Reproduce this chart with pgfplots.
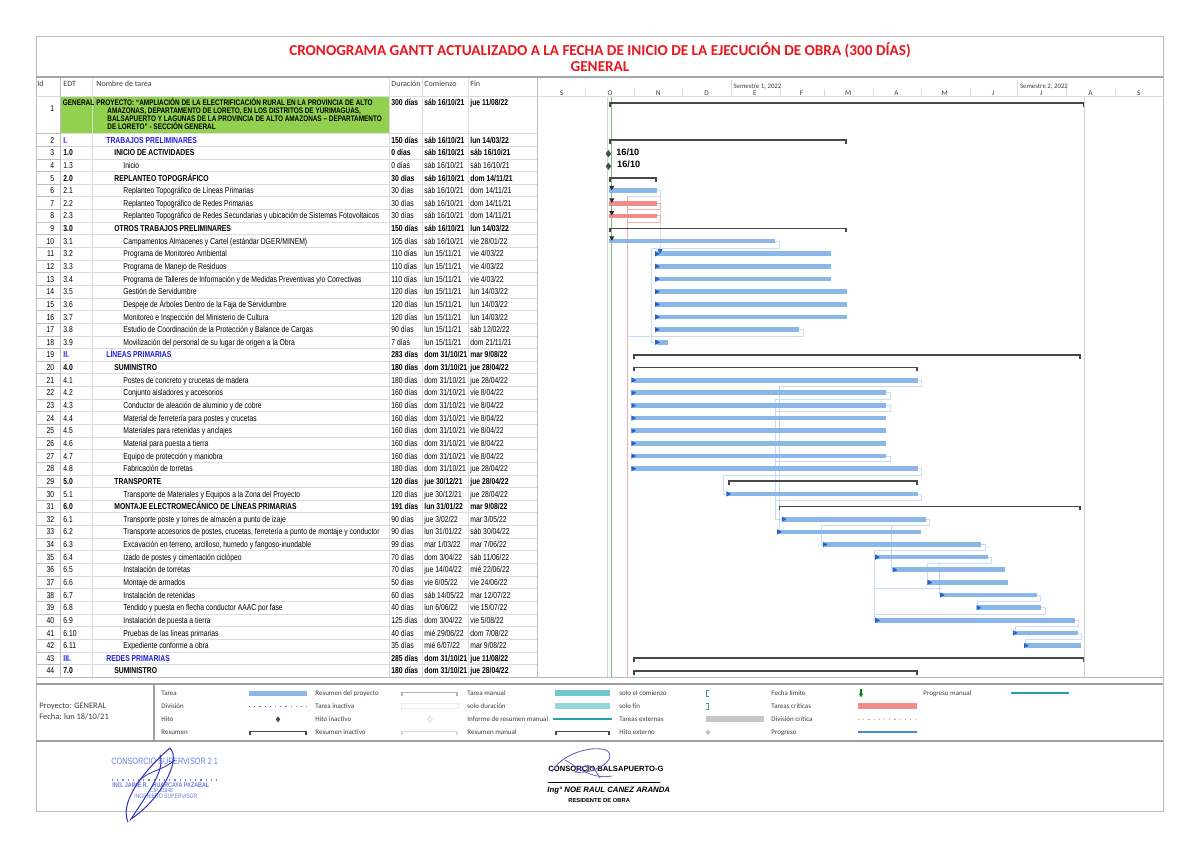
\documentclass[border=0pt]{standalone}
\usepackage{fontspec}
\setmainfont{Liberation Sans}
\newfontfamily\tbf[FakeStretch=0.79]{Liberation Sans}
\newfontfamily\clf{Carlito}
\usepackage{pgfplots}
\pgfplotsset{compat=1.18}
\usepackage{pgfplotstable}
\definecolor{barblue}{RGB}{138,182,232}
\definecolor{crit}{RGB}{243,139,139}
\definecolor{sumgray}{RGB}{72,72,72}
\definecolor{ttlred}{RGB}{235,22,30}
\definecolor{blu}{RGB}{30,30,225}
\definecolor{grn}{RGB}{146,208,80}
\definecolor{lnk}{RGB}{200,221,245}
\definecolor{lnkred}{RGB}{246,170,170}
\definecolor{arrb}{RGB}{35,100,205}
\definecolor{gridc}{RGB}{220,220,220}
\definecolor{framec}{RGB}{190,190,190}
\definecolor{hdr}{RGB}{60,60,60}
\definecolor{teal1}{RGB}{112,200,206}
\definecolor{teal2}{RGB}{40,160,170}
\definecolor{progb}{RGB}{70,135,215}
\definecolor{stampb}{RGB}{110,125,220}
\definecolor{sigb}{RGB}{45,50,190}
\definecolor{sigp}{RGB}{120,95,200}
\definecolor{statg}{RGB}{110,195,110}
\pgfdeclareplotmark{stL}{\pgfpathrectangle{\pgfpoint{0pt}{-1.9pt}}{\pgfpoint{0.8pt}{2.35pt}}\pgfusepathqfill}
\pgfdeclareplotmark{stR}{\pgfpathrectangle{\pgfpoint{-0.8pt}{-1.9pt}}{\pgfpoint{0.8pt}{2.35pt}}\pgfusepathqfill}
\pgfplotsset{lk/.style={lnk, line width=0.4pt}, lkr/.style={lnkred, line width=0.4pt}}

% row  start(day from 16/10/21)  duration(days)
\pgfplotstableread{
r s d
6 0 30
10 0 105
11 30 110
12 30 110
13 30 110
14 30 120
15 30 120
16 30 120
17 30 90
18 30 7
21 15 180
22 15 160
23 15 160
24 15 160
25 15 160
26 15 160
27 15 160
28 15 180
30 75 120
32 110 90
33 107 90
34 136 99
35 169 70
36 180 70
37 202 50
38 210 60
39 233 40
40 169 125
41 256 40
42 263 35
}\blueTasks
\pgfplotstableread{
r s d
7 0 30
8 0 30
}\critTasks
\pgfplotstableread{
r s d
-0.9 0 300
2 0 150
5 0 30
9 0 150
19 15 283
20 15 180
29 75 120
31 107 191
43 15 285
44 15 180
}\sumTasks
\pgfplotstableread{
r s
11 30
12 30
13 30
14 30
15 30
16 30
17 30
18 30
21 15
22 15
23 15
24 15
25 15
26 15
27 15
28 15
30 75
32 110
33 107
34 136
35 169
36 180
37 202
38 210
39 233
40 169
41 256
42 263
}\linkArr

\newcommand\fs{\fontsize{4.3pt}{5pt}\selectfont}
\newcommand\fsa{\fontsize{4.05pt}{5pt}\selectfont}
\newcommand\Bf{\bfseries}
\newcommand\R[9]{%
 \node[anchor=base east,inner sep=0] at (54.5,{140+(#1-2)*12.64+3.1}) {\tbf\fs #1};
 \node[anchor=base west,inner sep=0] at (63,{140+(#1-2)*12.64+3.1}) {\tbf\fs #4#2};
 \node[anchor=base west,inner sep=0] at (#3,{140+(#1-2)*12.64+3.1}) {\tbf\fs #4#5};
 \node[anchor=base west,inner sep=0] at (391,{140+(#1-2)*12.64+3.1}) {\tbf\fs #9#6};
 \node[anchor=base west,inner sep=0] at (424,{140+(#1-2)*12.64+3.1}) {\tbf\fs #9#7};
 \node[anchor=base west,inner sep=0] at (470,{140+(#1-2)*12.64+3.1}) {\tbf\fs #9#8};
}
\newcommand\brk[4]{%
 \fill[#4] (#1,{#3-0.9}) rectangle (#2,{#3+0.9});
 \fill[#4] (#1,{#3-0.9}) rectangle ({#1+1.6},{#3+3.8});
 \fill[#4] ({#2-1.6},{#3-0.9}) rectangle (#2,{#3+3.8});
}
\newcommand\lgd[3]{\node[anchor=base west,inner sep=0,text=hdr] at (#1,{#2+2.3}) {\clf\fontsize{3.5pt}{4pt}\selectfont #3};}

\begin{document}
\begin{tikzpicture}[x=0.5pt,y=-0.5pt]
\useasboundingbox (0,0) rectangle (1200,848);
\fill[white] (0,0) rectangle (1200,848);

% ---------- title ----------
\node[anchor=base,inner sep=0,text=ttlred] at (600,55.2) {\clf\bfseries\fontsize{7.6pt}{8pt}\selectfont CRONOGRAMA GANTT ACTUALIZADO A LA FECHA DE INICIO DE LA EJECUCIÓN DE OBRA (300 DÍAS)};
\node[anchor=base,inner sep=0,text=ttlred] at (600,71.2) {\clf\bfseries\fontsize{7.6pt}{8pt}\selectfont GENERAL};

% ---------- table grid ----------
\fill[grn] (60,96.5) rectangle (389,133.68);
\foreach \k in {2,...,44} \draw[gridc, line width=0.4pt] (60,{133.68+(\k-2)*12.64}) -- (537.5,{133.68+(\k-2)*12.64});
\foreach \k in {2,...,44} \draw[framec, line width=0.4pt] (36,{133.68+(\k-2)*12.64}) -- (60,{133.68+(\k-2)*12.64});
\draw[gridc, line width=0.4pt] (36,96.5) -- (1163.3,96.5);
\foreach \x in {92,389,422,468} \draw[gridc, line width=0.4pt] (\x,77) -- (\x,677.3);
\draw[framec, line width=0.4pt] (60,77) -- (60,677.3);
\draw[framec, line width=0.5pt] (537.5,77) -- (537.5,677.3);

% header
\foreach \x/\t in {37/Id, 63/EDT, 96/Nombre de tarea, 391/Duración, 424/Comienzo, 470/Fin}
  \node[anchor=base west,inner sep=0,text=hdr] at (\x,86.8) {\clf\fontsize{4pt}{5pt}\selectfont \t};
% timeline header
\foreach \d in {-15,16,46,108,136,167,197,228,289,320} \draw[gridc, line width=0.4pt] ({609.2+1.5831*\d},89) -- ({609.2+1.5831*\d},96.5);
\foreach \d in {77,258} \draw[gridc, line width=0.4pt] ({609.2+1.5831*\d},80) -- ({609.2+1.5831*\d},96.5);
\node[anchor=base west,inner sep=0,text=hdr] at ({609.2+1.5831*77+2},88.2) {\clf\fontsize{3.4pt}{4pt}\selectfont Semestre 1, 2022};
\node[anchor=base west,inner sep=0,text=hdr] at ({609.2+1.5831*258+2},88.2) {\clf\fontsize{3.4pt}{4pt}\selectfont Semestre 2, 2022};
\foreach \d/\m in {-30/S, 0.5/O, 31/N, 61.5/D, 92/E, 121.5/F, 151/M, 181.5/A, 212/M, 242.5/J, 273/J, 304/A, 334.5/S}
  \node[anchor=base,inner sep=0,text=hdr] at ({609.2+1.5831*\d},95.8) {\clf\fontsize{3.6pt}{4pt}\selectfont \m};

% ---------- row 1 ----------
\node[anchor=base east,inner sep=0] at (54.5,111.5) {\tbf\fs 1};
\node[anchor=base west,inner sep=0] at (62.5,105.1) {\tbf\fsa\Bf GENERAL};
\node[anchor=base west,inner sep=0] at (96,105.1) {\tbf\fsa\Bf PROYECTO: “AMPLIACIÓN DE LA ELECTRIFICACIÓN RURAL EN LA PROVINCIA DE ALTO};
\node[anchor=base west,inner sep=0] at (107,113.3) {\tbf\fsa\Bf AMAZONAS, DEPARTAMENTO DE LORETO, EN LOS DISTRITOS DE YURIMAGUAS,};
\node[anchor=base west,inner sep=0] at (107,121.5) {\tbf\fsa\Bf BALSAPUERTO Y LAGUNAS DE LA PROVINCIA DE ALTO AMAZONAS – DEPARTAMENTO};
\node[anchor=base west,inner sep=0] at (107,129.7) {\tbf\fsa\Bf DE LORETO” - SECCIÓN GENERAL};
\node[anchor=base west,inner sep=0] at (391,105.1) {\tbf\fs\Bf 300 días};
\node[anchor=base west,inner sep=0] at (424,105.1) {\tbf\fs\Bf sáb 16/10/21};
\node[anchor=base west,inner sep=0] at (470,105.1) {\tbf\fs\Bf jue 11/08/22};

% ---------- rows ----------
\R{2}{I.}{106}{\Bf\color{blu}}{TRABAJOS PRELIMINARES}{150 días}{sáb 16/10/21}{lun 14/03/22}{\Bf}
\R{3}{1.0}{114}{\Bf}{INICIO DE ACTIVIDADES}{0 días}{sáb 16/10/21}{sáb 16/10/21}{\Bf}
\R{4}{1.3}{123}{}{Inicio}{0 días}{sáb 16/10/21}{sáb 16/10/21}{}
\R{5}{2.0}{114}{\Bf}{REPLANTEO TOPOGRÁFICO}{30 días}{sáb 16/10/21}{dom 14/11/21}{\Bf}
\R{6}{2.1}{123}{}{Replanteo Topográfico de Líneas Primarias}{30 días}{sáb 16/10/21}{dom 14/11/21}{}
\R{7}{2.2}{123}{}{Replanteo Topográfico de Redes Primarias}{30 días}{sáb 16/10/21}{dom 14/11/21}{}
\R{8}{2.3}{123}{}{Replanteo Topográfico de Redes Secundarias y ubicación de Sistemas Fotovoltaicos}{30 días}{sáb 16/10/21}{dom 14/11/21}{}
\R{9}{3.0}{114}{\Bf}{OTROS TRABAJOS PRELIMINARES}{150 días}{sáb 16/10/21}{lun 14/03/22}{\Bf}
\R{10}{3.1}{123}{}{Campamentos Almacenes y Cartel (estándar DGER/MINEM)}{105 días}{sáb 16/10/21}{vie 28/01/22}{}
\R{11}{3.2}{123}{}{Programa de Monitoreo Ambiental}{110 días}{lun 15/11/21}{vie 4/03/22}{}
\R{12}{3.3}{123}{}{Programa de Manejo de Residuos}{110 días}{lun 15/11/21}{vie 4/03/22}{}
\R{13}{3.4}{123}{}{Programa de Talleres de Información y de Medidas Preventivas y/o Correctivas}{110 días}{lun 15/11/21}{vie 4/03/22}{}
\R{14}{3.5}{123}{}{Gestión de Servidumbre}{120 días}{lun 15/11/21}{lun 14/03/22}{}
\R{15}{3.6}{123}{}{Despeje de Árboles Dentro de la Faja de Servidumbre}{120 días}{lun 15/11/21}{lun 14/03/22}{}
\R{16}{3.7}{123}{}{Monitoreo e Inspección del Ministerio de Cultura}{120 días}{lun 15/11/21}{lun 14/03/22}{}
\R{17}{3.8}{123}{}{Estudio de Coordinación de la Protección y Balance de Cargas}{90 días}{lun 15/11/21}{sáb 12/02/22}{}
\R{18}{3.9}{123}{}{Movilización del personal de su lugar de origen a la Obra}{7 días}{lun 15/11/21}{dom 21/11/21}{}
\R{19}{II.}{106}{\Bf\color{blu}}{LÍNEAS PRIMARIAS}{283 días}{dom 31/10/21}{mar 9/08/22}{\Bf}
\R{20}{4.0}{114}{\Bf}{SUMINISTRO}{180 días}{dom 31/10/21}{jue 28/04/22}{\Bf}
\R{21}{4.1}{123}{}{Postes de concreto y crucetas de madera}{180 días}{dom 31/10/21}{jue 28/04/22}{}
\R{22}{4.2}{123}{}{Conjunto aisladores y accesorios}{160 días}{dom 31/10/21}{vie 8/04/22}{}
\R{23}{4.3}{123}{}{Conductor de aleación de aluminio y de cobre}{160 días}{dom 31/10/21}{vie 8/04/22}{}
\R{24}{4.4}{123}{}{Material de ferretería para postes y crucetas}{160 días}{dom 31/10/21}{vie 8/04/22}{}
\R{25}{4.5}{123}{}{Materiales para retenidas y anclajes}{160 días}{dom 31/10/21}{vie 8/04/22}{}
\R{26}{4.6}{123}{}{Material para puesta a tierra}{160 días}{dom 31/10/21}{vie 8/04/22}{}
\R{27}{4.7}{123}{}{Equipo de protección y maniobra}{160 días}{dom 31/10/21}{vie 8/04/22}{}
\R{28}{4.8}{123}{}{Fabricación de torretas}{180 días}{dom 31/10/21}{jue 28/04/22}{}
\R{29}{5.0}{114}{\Bf}{TRANSPORTE}{120 días}{jue 30/12/21}{jue 28/04/22}{\Bf}
\R{30}{5.1}{123}{}{Transporte de Materiales y Equipos a la Zona del Proyecto}{120 días}{jue 30/12/21}{jue 28/04/22}{}
\R{31}{6.0}{114}{\Bf}{MONTAJE ELECTROMECÁNICO DE LÍNEAS PRIMARIAS}{191 días}{lun 31/01/22}{mar 9/08/22}{\Bf}
\R{32}{6.1}{123}{}{Transporte poste y torres de almacén a punto de izaje}{90 días}{jue 3/02/22}{mar 3/05/22}{}
\R{33}{6.2}{123}{}{Transporte accesorios de postes, crucetas, ferretería a punto de montaje y conductor}{90 días}{lun 31/01/22}{sáb 30/04/22}{}
\R{34}{6.3}{123}{}{Excavación en terreno, arcilloso, humedo y fangoso-inundable}{99 días}{mar 1/03/22}{mar 7/06/22}{}
\R{35}{6.4}{123}{}{Izado de postes y cimentación ciclópeo}{70 días}{dom 3/04/22}{sáb 11/06/22}{}
\R{36}{6.5}{123}{}{Instalación de torretas}{70 días}{jue 14/04/22}{mié 22/06/22}{}
\R{37}{6.6}{123}{}{Montaje de armados}{50 días}{vie 6/05/22}{vie 24/06/22}{}
\R{38}{6.7}{123}{}{Instalación de retenidas}{60 días}{sáb 14/05/22}{mar 12/07/22}{}
\R{39}{6.8}{123}{}{Tendido y puesta en flecha conductor AAAC por fase}{40 días}{lun 6/06/22}{vie 15/07/22}{}
\R{40}{6.9}{123}{}{Instalación de puesta a tierra}{125 días}{dom 3/04/22}{vie 5/08/22}{}
\R{41}{6.10}{123}{}{Pruebas de las líneas primarias}{40 días}{mié 29/06/22}{dom 7/08/22}{}
\R{42}{6.11}{123}{}{Expediente conforme a obra}{35 días}{mié 6/07/22}{mar 9/08/22}{}
\R{43}{III.}{106}{\Bf\color{blu}}{REDES PRIMARIAS}{285 días}{dom 31/10/21}{jue 11/08/22}{\Bf}
\R{44}{7.0}{114}{\Bf}{SUMINISTRO}{180 días}{dom 31/10/21}{jue 28/04/22}{\Bf}

% ---------- gantt ----------
\begin{axis}[at={(268.75pt,-338.65pt)}, anchor=south west, width=312.9pt, height=290.4pt,
  scale only axis, xmin=-45.3, xmax=350, ymin=-1.441, ymax=44.508, y dir=reverse,
  hide axis, clip=false]
\addplot[gray!35, line width=0.4pt] coordinates {(-1,-1.441) (-1,44.508)};
\addplot[gray!35, line width=0.4pt] coordinates {(300,-1.441) (300,44.508)};
\addplot[statg, line width=0.45pt] coordinates {(1.6,-1.441) (1.6,44.508)};
% links
\addplot[lkr] coordinates {(11.4,6.5) (11.4,44.508)};
\addplot[lk] coordinates {(30,6) (32.2,6) (32.2,10.6)};
\addplot[lk] coordinates {(32.2,6.5) (11.4,6.5)};
\addplot[lkr] coordinates {(30,7) (32.2,7) (32.2,7.5) (11.4,7.5)};
\addplot[lkr] coordinates {(30,8) (32.2,8) (32.2,8.5) (11.4,8.5)};
\addplot[lk] coordinates {(105,10) (107.5,10) (107.5,10.57) (26.5,10.57) (26.5,18) (29,18)};
\addplot[lk] coordinates {(120,17) (122.5,17) (122.5,17.56) (11.4,17.56)};
\addplot[lk] coordinates {(195,21) (197.5,21) (197.5,21.5) (107.8,21.5) (107.8,33) (107,33)};
\addplot[lk] coordinates {(175,22) (177.5,22) (177.5,22.5) (104.7,22.5) (104.7,32) (109,32)};
\addplot[lk] coordinates {(175,23) (177.5,23) (177.5,23.5) (104.7,23.5)};
\addplot[lk] coordinates {(175,27) (177.5,27) (177.5,27.45) (104.7,27.45)};
\addplot[lk] coordinates {(195,28) (197.5,28) (197.5,28.5) (72.4,28.5) (72.4,30) (74,30)};
\addplot[lk] coordinates {(195,30) (197.5,30) (197.5,30.5) (104.7,30.5)};
\addplot[lk] coordinates {(200,32) (202.5,32) (202.5,32.5) (133.8,32.5) (133.8,34) (135,34)};
\addplot[lk] coordinates {(178.5,32.5) (178.5,36) (179,36)};
\addplot[lk] coordinates {(235,34) (237.5,34) (237.5,34.5) (167.7,34.5) (167.7,40) (168,40)};
\addplot[lk] coordinates {(167.7,35) (168.5,35)};
\addplot[lk] coordinates {(167.7,37.5) (210,37.5)};
\addplot[lk] coordinates {(273,39) (275.5,39) (275.5,39.5) (167.7,39.5)};
\addplot[lk] coordinates {(239,35) (241.5,35) (241.5,35.5) (201,35.5) (201,37) (202,37)};
\addplot[lk] coordinates {(208.6,35.5) (208.6,38) (209.5,38)};
\addplot[lk] coordinates {(270,38) (272.5,38) (272.5,38.5) (232.8,38.5) (232.8,39) (233,39)};
\addplot[lk] coordinates {(294,40) (296.5,40) (296.5,40.5) (256.3,40.5) (256.3,41) (256,41)};
\addplot[lk] coordinates {(296,41) (298.5,41) (298.5,41.5) (263,41.5) (263,42)};
% bars
\addplot[barblue, line width=2.35pt, quiver={u=\thisrow{d}, v=0}] table[x=s,y=r]{\blueTasks};
\addplot[crit, line width=2.35pt, quiver={u=\thisrow{d}, v=0}] table[x=s,y=r]{\critTasks};
\addplot[sumgray, line width=0.9pt, quiver={u=\thisrow{d}, v=0}] table[x=s,y=r]{\sumTasks};
\addplot[only marks, mark=stL, color=sumgray] table[x=s,y=r]{\sumTasks};
\addplot[only marks, mark=stR, color=sumgray] table[x expr=\thisrow{s}+\thisrow{d},y=r]{\sumTasks};
% link arrows
\addplot[only marks, mark=triangle*, mark size=1.15pt, color=arrb, mark options={rotate=-90}] table[x=s,y=r]{\linkArr};
\addplot[only marks, mark=triangle*, mark size=1.05pt, color=black!85, mark options={rotate=180}] coordinates {(1.6,5.74) (1.6,6.74) (1.6,7.74) (1.6,9.74)};
\addplot[only marks, mark=triangle*, mark size=1.05pt, color=arrb, mark options={rotate=180}] coordinates {(32.2,10.74)};
% milestones
\addplot[only marks, mark=diamond*, mark size=1.5pt, color=black!70] coordinates {(-0.5,3.08) (-0.5,4.08)};
\node[anchor=west,inner sep=0] at (axis cs:4.2,2.95) {\fontsize{4.6pt}{5pt}\selectfont\bfseries 16/10};
\node[anchor=west,inner sep=0] at (axis cs:4.8,3.95) {\fontsize{4.6pt}{5pt}\selectfont\bfseries 16/10};
\end{axis}

% ---------- frames ----------
\draw[framec, line width=0.5pt] (36,36) rectangle (1163.3,811.7);
\draw[gray!70, line width=0.8pt] (36,77) -- (1163.3,77);
\draw[gray!55, line width=0.5pt] (36,677.3) -- (1163.3,677.3);
\draw[gray!75, line width=1pt] (36,684) -- (1163.3,684);
\draw[gray!75, line width=1pt] (36,740.5) -- (1163.3,740.5);
\draw[gray!75, line width=0.6pt] (154,684) -- (154,740.5);

% ---------- legend ----------
\node[anchor=base west,inner sep=0,text=hdr] at (39,708.7) {\clf\fontsize{4.2pt}{5pt}\selectfont Proyecto: GENERAL};
\node[anchor=base west,inner sep=0,text=hdr] at (39,719.4) {\clf\fontsize{4.2pt}{5pt}\selectfont Fecha: lun 18/10/21};
\lgd{161}{693.3}{Tarea}\lgd{161}{706.3}{División}\lgd{161}{719.3}{Hito}\lgd{161}{732.3}{Resumen}
\lgd{315}{693.3}{Resumen del proyecto}\lgd{315}{706.3}{Tarea inactiva}\lgd{315}{719.3}{Hito inactivo}\lgd{315}{732.3}{Resumen inactivo}
\lgd{467}{693.3}{Tarea manual}\lgd{467}{706.3}{solo duración}\lgd{467}{719.3}{Informe de resumen manual}\lgd{467}{732.3}{Resumen manual}
\lgd{619}{693.3}{solo el comienzo}\lgd{619}{706.3}{solo fin}\lgd{619}{719.3}{Tareas externas}\lgd{619}{732.3}{Hito externo}
\lgd{771}{693.3}{Fecha límite}\lgd{771}{706.3}{Tareas críticas}\lgd{771}{719.3}{División crítica}\lgd{771}{732.3}{Progreso}
\lgd{923}{693.3}{Progreso manual}
% col 1
\fill[barblue] (249,690.5) rectangle (307,696);
\draw[progb, dotted, line width=0.6pt] (249,706.3) -- (307,706.3);
\fill[black!70] (278,716.3) -- (280.2,719.3) -- (278,722.3) -- (275.8,719.3) -- cycle;
\brk{249}{307}{731.5}{sumgray}
% col 2
\brk{401}{458}{692.5}{gray!60}
\draw[gray!15, line width=0.5pt] (401,703.8) rectangle (458,708.8);
\draw[gray!30, line width=0.4pt] (430,716.3) -- (432.2,719.3) -- (430,722.3) -- (427.8,719.3) -- cycle;
\brk{401}{458}{731.5}{gray!30}
% col 3
\fill[teal1] (555,690.3) rectangle (610,696.3);
\fill[teal1!75] (555,703.3) rectangle (610,709.3);
\draw[teal2, line width=1pt] (553,719.3) -- (612,719.3);
\brk{555}{610}{731.5}{sumgray}
% col 4
\draw[teal2, line width=0.6pt] (709,690.3) -- (706.5,690.3) -- (706.5,696.3) -- (709,696.3);
\draw[teal2, line width=0.6pt] (706,703.3) -- (708.5,703.3) -- (708.5,709.3) -- (706,709.3);
\fill[gray!45] (706,716.3) rectangle (764,722.3);
\fill[gray!50] (708,729.3) -- (710.2,732.3) -- (708,735.3) -- (705.8,732.3) -- cycle;
% col 5
\draw[green!55!black, line width=0.6pt] (861,689) -- (861,694);
\fill[green!55!black] (858.8,693.5) -- (863.2,693.5) -- (861,697.5) -- cycle;
\fill[crit] (858,703.3) rectangle (917,709.3);
\draw[crit, dotted, line width=0.6pt] (858,719.3) -- (917,719.3);
\draw[progb, line width=0.9pt] (858,732.3) -- (917,732.3);
% col 6
\draw[teal2, line width=0.9pt] (1011,693.3) -- (1069,693.3);

% ---------- signatures ----------
\node[anchor=base west,inner sep=0,text=stampb] at (111,764.3) {\tbf\fontsize{4.6pt}{5pt}\selectfont CONSORCIO SUPERVISOR 2 1};
\draw[stampb, dotted, line width=0.6pt] (112,780) -- (218,780);
\node[anchor=base west,inner sep=0,text=stampb] at (112,787) {\tbf\fontsize{3.4pt}{4pt}\selectfont\bfseries ING. JAIME R. \ \ HUARCAYA PAZABAL};
\node[anchor=base west,inner sep=0,text=stampb] at (150,792.5) {\tbf\fontsize{3pt}{4pt}\selectfont CIP 81848};
\node[anchor=base west,inner sep=0,text=stampb] at (134,798) {\tbf\fontsize{3.2pt}{4pt}\selectfont INGENIERO SUPERVISOR};
\draw[sigb, line width=0.5pt] (128,822) .. controls (118,800) and (150,765) .. (170,748) .. controls (182,760) and (160,800) .. (131,819) .. controls (150,790) and (165,770) .. (160,755);
\draw[sigb, line width=0.4pt] (140,780) .. controls (150,770) and (160,772) .. (175,760);
\node[anchor=base west,inner sep=0] at (548,771.5) {\fontsize{3.8pt}{4pt}\selectfont\bfseries CONSORCIO BALSAPUERTO-G};
\draw[black, line width=0.5pt] (548,782) -- (660,782);
\node[anchor=base west,inner sep=0] at (547,792.5) {\fontsize{3.9pt}{4pt}\selectfont\bfseries\itshape Ing° NOE RAUL CANEZ ARANDA};
\node[anchor=base west,inner sep=0] at (568,802) {\fontsize{2.9pt}{4pt}\selectfont\bfseries RESIDENTE DE OBRA};
\draw[sigp, line width=0.45pt] (552,772) .. controls (560,755) and (590,745) .. (606,750) .. controls (620,758) and (595,775) .. (575,772) .. controls (585,765) and (590,760) .. (600,778);
\draw[sigp, line width=0.4pt] (565,760) .. controls (575,765) and (590,780) .. (612,776);
\end{tikzpicture}
\end{document}
